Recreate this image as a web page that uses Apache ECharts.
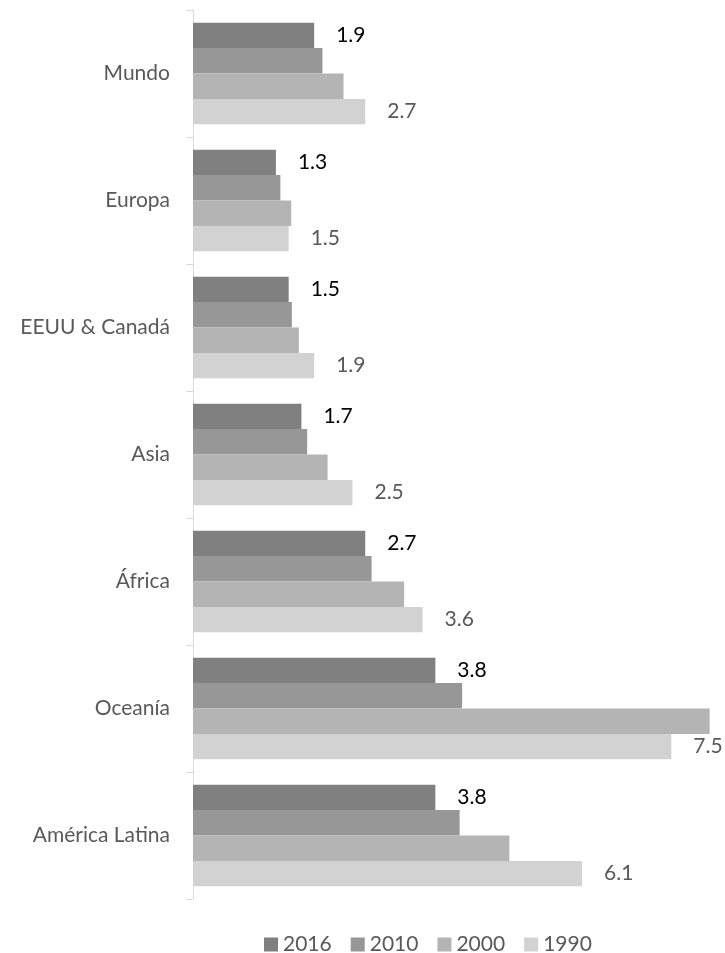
<!DOCTYPE html>
<html>
<head>
<meta charset="utf-8">
<script src="https://cdn.jsdelivr.net/npm/echarts@6/dist/echarts.min.js"></script>
<style>
  html, body { margin: 0; padding: 0; background: #fff; }
  #chart { width: 725px; height: 953px; }
</style>
</head>
<body>
<div id="chart"></div>
<script>
// Regions, top to bottom
const regions = ['Mundo', 'Europa', 'EEUU & Canadá', 'Asia', 'África', 'Oceanía', 'América Latina'];
const years = ['2016', '2010', '2000', '1990'];

// Values per year, in region order
const v2016 = [1.9, 1.3, 1.5, 1.7, 2.7, 3.8, 3.8];
const v2010 = [2.03, 1.37, 1.55, 1.79, 2.8, 4.22, 4.18];
const v2000 = [2.36, 1.54, 1.66, 2.11, 3.31, 8.1, 4.96];
const v1990 = [2.7, 1.5, 1.9, 2.5, 3.6, 7.5, 6.1];

const colors = ['#808080', '#979797', '#b4b4b4', '#d2d2d2'];
const font = 'Lato, "Open Sans", sans-serif';

function barSeries(name, data, color, label) {
  return {
    name: name,
    type: 'bar',
    data: data,
    itemStyle: { color: color },
    barGap: '0%',
    barCategoryGap: '20%',
    label: label ? {
      show: true,
      position: 'right',
      distance: 22,
      fontFamily: font,
      fontSize: 21,
      color: label,
      formatter: p => p.value.toFixed(1)
    } : { show: false },
    emphasis: { disabled: true }
  };
}

const chart = echarts.init(document.getElementById('chart'), null, { renderer: 'canvas' });
chart.setOption({
  animation: false,
  backgroundColor: '#ffffff',
  grid: { left: 193, top: 10, right: 9, bottom: 54, containLabel: false },
  xAxis: {
    type: 'value',
    min: 0,
    max: 8.2,
    show: false
  },
  yAxis: {
    type: 'category',
    data: regions,
    inverse: true,
    axisLine: { show: true, lineStyle: { color: '#d9d9d9', width: 1 } },
    axisTick: { show: true, length: 7, lineStyle: { color: '#d9d9d9' } },
    axisLabel: { margin: 23, fontFamily: font, fontSize: 21, color: '#595959' },
    splitLine: { show: false }
  },
  legend: {
    top: 929,
    left: 259,
    icon: 'rect',
    itemWidth: 14,
    itemHeight: 14,
    itemGap: 19,
    textStyle: { fontFamily: font, fontSize: 21, color: '#595959' },
    data: years
  },
  series: [
    barSeries('2016', v2016, colors[0], '#000000'),
    barSeries('2010', v2010, colors[1], null),
    barSeries('2000', v2000, colors[2], null),
    barSeries('1990', v1990, colors[3], '#595959')
  ]
});
</script>
</body>
</html>
